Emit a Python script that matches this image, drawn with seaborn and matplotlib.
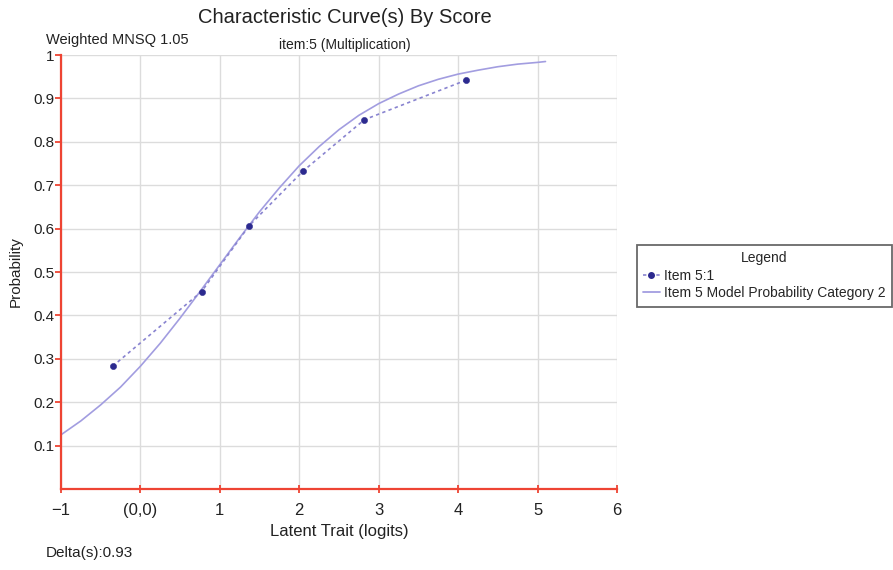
import numpy as np
import pandas as pd
import seaborn as sns
import matplotlib.pyplot as plt
from matplotlib.lines import Line2D

# observed proportions (item 5, score 1)
obs_x = [-0.35, 0.77, 1.37, 2.05, 2.82, 4.10]
obs_p = [0.283, 0.455, 0.607, 0.733, 0.851, 0.942]

# model curve
mod_x = [-1.0, -0.75, -0.5, -0.25, 0.0, 0.25, 0.5, 0.75, 1.0, 1.25, 1.5, 1.75, 2.0,
         2.25, 2.5, 2.75, 3.0, 3.25, 3.5, 3.75, 4.0, 4.25, 4.5, 4.75, 5.0, 5.1]
mod_p = [0.125, 0.157, 0.194, 0.235, 0.283, 0.336, 0.394, 0.455, 0.517, 0.579, 0.639,
         0.694, 0.745, 0.789, 0.828, 0.861, 0.888, 0.910, 0.929, 0.944, 0.956, 0.965,
         0.973, 0.979, 0.983, 0.985]

xticks = [-1, 0, 1, 2, 3, 4, 5, 6]
xtick_labels = ["\u22121", "(0,0)", "1", "2", "3", "4", "5", "6"]
yticks = [0.1, 0.2, 0.3, 0.4, 0.5, 0.6, 0.7, 0.8, 0.9, 1]
ytick_labels = ["0.1", "0.2", "0.3", "0.4", "0.5", "0.6", "0.7", "0.8", "0.9", "1"]

sns.set_style("white")
plt.rcParams['font.family'] = ['Liberation Sans', 'DejaVu Sans']

obs = pd.DataFrame({"x": obs_x, "p": obs_p})
mod = pd.DataFrame({"x": mod_x, "p": mod_p})

fig = plt.figure(figsize=(8.93, 5.70), dpi=100)
ax = fig.add_axes([0.0683, 0.142, 0.6226, 0.7615])

line_col = "#a29de0"
dot_col = "#2c2a8f"

sns.lineplot(data=mod, x="x", y="p", ax=ax, color=line_col, lw=1.2, sort=False)
sns.lineplot(data=obs, x="x", y="p", ax=ax, color="#8984d0", lw=1.2, linestyle=(0, (2, 2)), sort=False)
sns.scatterplot(data=obs, x="x", y="p", ax=ax, color=dot_col, s=20, edgecolor=dot_col, zorder=5)

ax.set_xlim(-1, 6)
ax.set_ylim(0, 1)
ax.set_xticks(xticks)
ax.set_xticklabels(xtick_labels, fontsize=12)
ax.set_yticks(yticks)
ax.set_yticklabels(ytick_labels, fontsize=11)
ax.grid(True, color="#dcdcdc", lw=1)
ax.set_axisbelow(True)

for s in ["top", "right"]:
    ax.spines[s].set_visible(False)
for s in ["left", "bottom"]:
    ax.spines[s].set_color("#ee4433")
    ax.spines[s].set_linewidth(1.6)
ax.tick_params(axis="y", left=True, colors="#ee4433", length=4, width=1.3, labelcolor="#222222", pad=1)
ax.tick_params(axis="x", bottom=True, colors="#ee4433", length=6, width=1.3, direction="inout",
               labelcolor="#222222", pad=7)

ax.set_xlabel("Latent Trait (logits)", fontsize=12, labelpad=4, color="#222222")
ax.set_ylabel("Probability", fontsize=11, labelpad=7, color="#222222")

fig.text(0.386, 0.970, "Characteristic Curve(s) By Score", ha="center", va="center", fontsize=14.5, color="#222222")
fig.text(0.051, 0.930, "Weighted MNSQ 1.05", ha="left", va="center", fontsize=10.5, color="#222222")
fig.text(0.386, 0.921, "item:5 (Multiplication)", ha="center", va="center", fontsize=10, color="#222222")
fig.text(0.051, 0.030, "Delta(s):0.93", ha="left", va="center", fontsize=11, color="#222222")

handles = [
    Line2D([0], [0], color="#8984d0", lw=1.2, linestyle=(0, (2, 2)), marker="o", markersize=4,
           markerfacecolor=dot_col, markeredgecolor=dot_col),
    Line2D([0], [0], color=line_col, lw=1.3),
]
leg = fig.legend(handles, ["Item 5:1", "Item 5 Model Probability Category 2"],
                 title="Legend", loc="upper left", bbox_to_anchor=(0.713, 0.570),
                 fontsize=10, title_fontsize=10, frameon=True, fancybox=False,
                 handlelength=1.2, handletextpad=0.3, borderpad=0.45, labelspacing=0.25,
                 borderaxespad=0)
leg.get_frame().set_edgecolor("#444444")
leg.get_frame().set_linewidth(1.3)

fig.savefig("out.png", dpi=100)
